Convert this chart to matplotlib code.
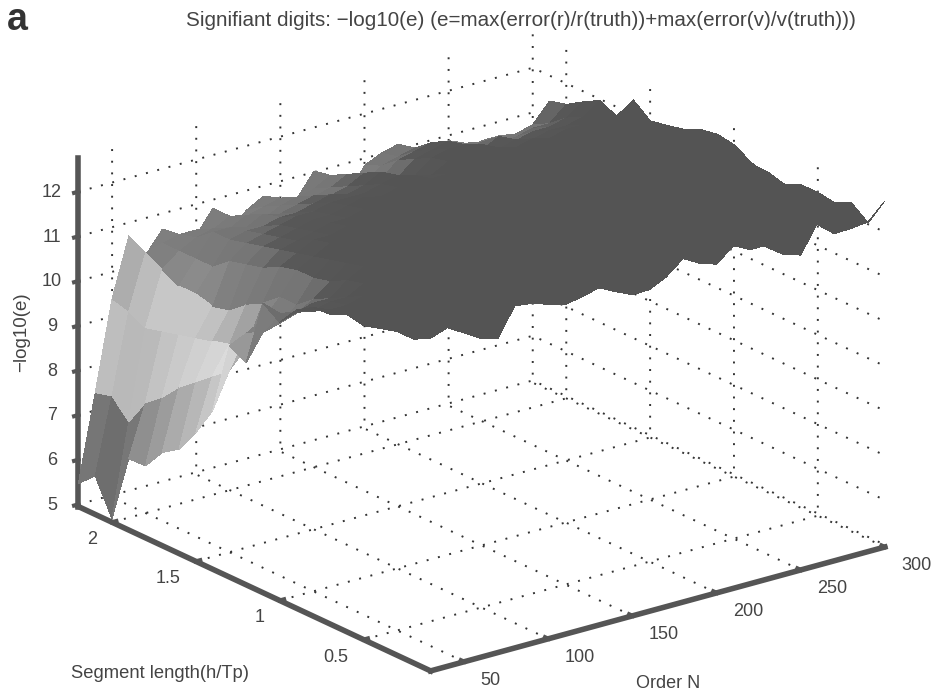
import numpy as np
import matplotlib
matplotlib.use('Agg')
import matplotlib.pyplot as plt
from matplotlib.colors import LinearSegmentedColormap, Normalize

plt.rcParams['font.family'] = ['Liberation Sans', 'DejaVu Sans']

order_n = [30, 40, 50, 60, 70, 80, 90, 100, 110, 120, 130, 140, 150, 160,
           170, 180, 190, 200, 210, 220, 230, 240, 250, 260, 270, 280, 290, 300]
seg_len = [2.2, 2.1, 2.0, 1.9, 1.8, 1.7, 1.6, 1.5, 1.4, 1.3, 1.2,
           1.1, 1.0, 0.9, 0.8, 0.7, 0.6, 0.5, 0.4, 0.3, 0.2, 0.1]

# one row per segment length, one column per order
digits = [
    [5.47, 7.4, 9.4, 10.7, 10.17, 10.65, 10.38, 10.3, 10.81, 10.2, 10.56, 10.77, 10.44, 10.52, 11.02, 10.76, 10.25, 10.84, 11.01, 11.11, 10.9, 10.59, 10.88, 10.6, 10.68, 10.68, 10.43, 10.4],
    [5.81, 7.5, 9.3, 10.5, 10.6, 10.7, 10.7, 10.6, 10.8, 10.7, 10.8, 10.9, 10.8, 10.9, 11.1, 10.9, 10.7, 11.0, 11.1, 11.2, 11.1, 10.9, 11.0, 10.9, 10.9, 10.9, 11.0, 11.43],
    [5.03, 7.1, 9.1, 10.3, 10.6, 10.8, 10.9, 10.8, 11.0, 10.8, 11.0, 11.1, 11.0, 11.1, 11.3, 11.2, 11.0, 11.3, 11.4, 11.5, 11.3, 11.1, 11.2, 11.1, 11.1, 11.2, 11.2, 11.53],
    [6.55, 7.7, 9.2, 10.1, 10.6, 11.1, 11.1, 11.0, 11.2, 11.1, 11.2, 11.3, 11.2, 11.3, 11.5, 11.4, 11.2, 11.5, 11.6, 11.7, 11.5, 11.3, 11.5, 11.3, 11.4, 11.4, 11.5, 11.76],
    [6.56, 8.0, 9.3, 10.1, 10.6, 11.1, 11.2, 11.2, 11.3, 11.3, 11.4, 11.5, 11.4, 11.5, 11.7, 11.5, 11.4, 11.7, 11.8, 11.8, 11.7, 11.5, 11.6, 11.5, 11.6, 11.6, 11.7, 11.97],
    [7.04, 8.4, 9.4, 10.0, 10.9, 11.2, 11.3, 11.4, 11.5, 11.5, 11.6, 11.6, 11.6, 11.7, 11.8, 11.7, 11.6, 11.8, 11.9, 11.9, 11.8, 11.7, 11.8, 11.7, 11.8, 11.8, 11.9, 11.79],
    [7.29, 8.7, 9.5, 10.1, 11.0, 11.3, 11.4, 11.5, 11.6, 11.6, 11.7, 11.8, 11.7, 11.8, 11.9, 11.8, 11.8, 12.0, 12.0, 12.0, 11.9, 11.8, 11.9, 11.9, 11.9, 12.0, 12.0, 12.33],
    [7.83, 9.0, 9.6, 10.4, 11.1, 11.4, 11.5, 11.6, 11.7, 11.7, 11.8, 11.9, 11.8, 11.9, 12.0, 11.9, 11.9, 12.1, 12.1, 12.1, 12.0, 11.9, 12.1, 12.0, 12.0, 12.1, 12.1, 12.04],
    [8.5, 9.3, 9.7, 10.6, 11.3, 11.5, 11.7, 11.7, 11.8, 11.8, 11.9, 12.0, 11.9, 12.0, 12.1, 12.0, 12.0, 12.2, 12.2, 12.1, 12.1, 12.0, 12.2, 12.1, 12.1, 12.2, 12.2, 12.11],
    [10.13, 10.3, 10.5, 10.9, 11.4, 11.6, 11.8, 11.8, 11.9, 11.9, 12.0, 12.1, 12.0, 12.1, 12.2, 12.1, 12.1, 12.3, 12.2, 12.2, 12.2, 12.1, 12.3, 12.2, 12.2, 12.2, 12.3, 12.2],
    [9.92, 10.5, 10.6, 10.9, 11.4, 11.7, 11.9, 11.9, 12.0, 12.0, 12.1, 12.2, 12.1, 12.1, 12.2, 12.2, 12.2, 12.3, 12.3, 12.3, 12.2, 12.2, 12.3, 12.3, 12.3, 12.3, 12.3, 12.37],
    [11.43, 11.1, 11.0, 11.2, 11.5, 11.8, 12.0, 12.0, 12.1, 12.1, 12.2, 12.2, 12.2, 12.2, 12.3, 12.3, 12.2, 12.4, 12.3, 12.3, 12.3, 12.3, 12.4, 12.3, 12.3, 12.4, 12.4, 12.44],
    [11.18, 11.3, 11.4, 11.4, 11.7, 11.9, 12.1, 12.1, 12.2, 12.2, 12.2, 12.3, 12.2, 12.3, 12.3, 12.3, 12.3, 12.4, 12.4, 12.3, 12.4, 12.3, 12.4, 12.3, 12.4, 12.4, 12.4, 12.38],
    [11.63, 11.5, 11.6, 11.6, 11.8, 12.0, 12.1, 12.2, 12.2, 12.2, 12.3, 12.3, 12.3, 12.3, 12.4, 12.3, 12.3, 12.4, 12.4, 12.4, 12.4, 12.4, 12.4, 12.4, 12.4, 12.4, 12.4, 12.17],
    [11.86, 11.7, 11.7, 11.8, 11.9, 12.0, 12.2, 12.2, 12.3, 12.2, 12.3, 12.3, 12.3, 12.3, 12.4, 12.4, 12.3, 12.4, 12.4, 12.4, 12.4, 12.4, 12.4, 12.4, 12.4, 12.4, 12.4, 12.0],
    [11.88, 11.9, 11.8, 11.9, 12.0, 12.1, 12.2, 12.2, 12.3, 12.3, 12.3, 12.3, 12.3, 12.3, 12.4, 12.4, 12.4, 12.4, 12.4, 12.4, 12.4, 12.4, 12.4, 12.4, 12.4, 12.4, 12.4, 11.9],
    [12.06, 12.0, 12.0, 12.0, 12.1, 12.2, 12.2, 12.3, 12.3, 12.3, 12.3, 12.4, 12.3, 12.4, 12.4, 12.4, 12.5, 12.4, 12.5, 12.5, 12.4, 12.4, 12.4, 12.4, 12.4, 12.4, 12.3, 12.18],
    [11.98, 12.1, 12.1, 12.0, 12.1, 12.2, 12.3, 12.3, 12.3, 12.3, 12.3, 12.4, 12.3, 12.3, 12.4, 12.5, 12.4, 12.4, 12.5, 12.5, 12.4, 12.3, 12.3, 12.4, 12.3, 12.4, 12.3, 12.19],
    [12.09, 12.2, 12.2, 12.1, 12.1, 12.3, 12.4, 12.4, 12.3, 12.3, 12.4, 12.4, 12.3, 12.2, 12.4, 12.5, 12.5, 12.4, 12.6, 12.5, 12.3, 12.2, 12.2, 12.5, 12.3, 12.4, 12.4, 12.13],
    [12.2, 12.3, 12.2, 12.1, 12.0, 12.4, 12.5, 12.4, 12.3, 12.3, 12.5, 12.3, 12.2, 12.2, 12.4, 12.6, 12.5, 12.3, 12.6, 12.4, 12.4, 12.2, 12.0, 12.5, 12.3, 12.3, 12.4, 12.31],
    [12.2, 12.4, 12.3, 12.1, 12.0, 12.5, 12.5, 12.4, 12.3, 12.3, 12.5, 12.3, 12.1, 12.1, 12.3, 12.6, 12.4, 12.3, 12.6, 12.4, 12.4, 12.1, 12.0, 12.6, 12.3, 12.3, 12.3, 12.03],
    [12.4, 12.53, 12.31, 12.08, 11.98, 12.61, 12.56, 12.44, 12.33, 12.4, 12.5, 12.31, 12.14, 12.15, 12.33, 12.64, 12.43, 12.31, 12.62, 12.43, 12.43, 12.11, 12.0, 12.62, 12.27, 12.29, 12.33, 12.7],
]

n_ticks = [50, 100, 150, 200, 250, 300]
h_ticks = [0.5, 1, 1.5, 2]
h_tick_labels = ['0.5', '1', '1.5', '2']
z_ticks = [5, 6, 7, 8, 9, 10, 11, 12]

axis_col = '#555555'
text_col = '#444444'

# grey level against height, white band near 9.4
grey = LinearSegmentedColormap.from_list('grey_z', [
    (0.0, '#484848'),
    (0.135, '#606060'),
    (0.263, '#888888'),
    (0.39, '#b0b0b0'),
    (0.50, '#cccccc'),
    (0.58, '#dcdcdc'),
    (0.65, '#a8a8a8'),
    (0.71, '#808080'),
    (0.80, '#747474'),
    (0.83, '#585858'),
    (0.88, '#545454'),
    (1.0, '#545454'),
])
norm = Normalize(4.95, 12.75)

X, Y = np.meshgrid(order_n, seg_len)
Z = np.array(digits)

fig = plt.figure(figsize=(9.38, 6.98), dpi=100)
# axes box is forced square, so it has to be the full width of the figure
ax = fig.add_axes([0, -0.1953, 1, 1.344], projection='3d', proj_type='ortho')
ax.view_init(elev=20.9, azim=-127.4)
ax.set_box_aspect((575, 583, 375), zoom=0.927)

ax.plot_surface(X, Y, Z, cmap=grey, norm=norm, rstride=1, cstride=1,
                shade=False, linewidth=0, antialiased=False)

ax.set_xlim(30, 300, view_margin=0)
ax.set_ylim(0.1, 2.2, view_margin=0)
ax.set_zlim(4.95, 12.75, view_margin=0)
ax.set_xticks(n_ticks)
ax.set_yticks(h_ticks)
ax.set_yticklabels(h_tick_labels)
ax.set_zticks(z_ticks)

for axis in (ax.xaxis, ax.yaxis, ax.zaxis):
    axis.set_pane_color((1, 1, 1, 0))
    axis.pane.set_edgecolor((1, 1, 1, 0))
    axis.line.set_color(axis_col)
    axis.line.set_linewidth(4)
    axis._axinfo['grid'].update(color='#333333', linewidth=1.4, linestyle=(0, (1, 5)))
    axis._axinfo['tick'].update(inward_factor=0, outward_factor=0.12,
                                linewidth={True: 3, False: 1}, color=axis_col)
ax.zaxis._axinfo['tick'].update(inward_factor=0.12, outward_factor=0)
ax.tick_params(labelsize=13, labelcolor=text_col, color=axis_col)
ax.tick_params(axis='x', pad=8)

for t in ax.xaxis.get_ticklabels():
    t.set_ha('left')
    t.set_va('baseline')
for t in ax.yaxis.get_ticklabels():
    t.set_ha('right')
    t.set_va('center_baseline')
for t in ax.zaxis.get_ticklabels():
    t.set_va('center_baseline')

fig.text(521 / 938, 1 - 20 / 698, 'Signifiant digits: \u2212log10(e) (e=max(error(r)/r(truth))+max(error(v)/v(truth)))',
         ha='center', va='center', fontsize=14.85, color=text_col)
fig.text(7 / 938, 1 - 20 / 698, 'a', fontsize=27, fontweight='bold', color='#333333', va='center')
fig.text(22 / 938, 1 - 332 / 698, '\u2212log10(e)', rotation=90, ha='center', va='center', fontsize=13.5, color=text_col)
fig.text(160 / 938, 1 - 673 / 698, 'Segment length(h/Tp)', ha='center', va='center', fontsize=13.2, color=text_col)
fig.text(668 / 938, 1 - 683 / 698, 'Order N', ha='center', va='center', fontsize=13, color=text_col)

fig.savefig('out.png', dpi=100)
